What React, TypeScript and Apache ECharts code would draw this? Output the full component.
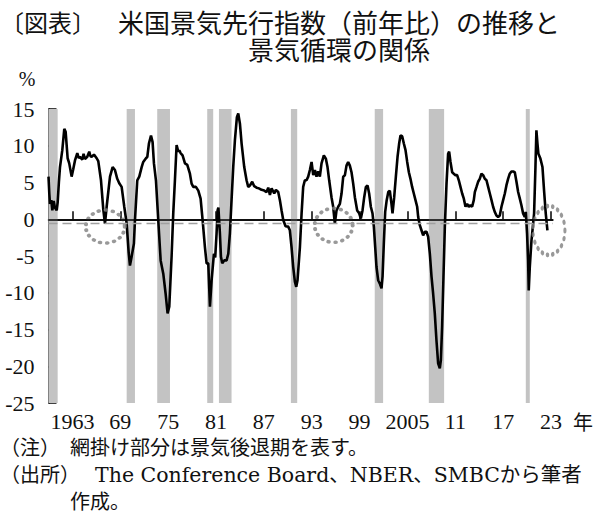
import React, { useEffect, useRef } from "react";
import * as echarts from "echarts";

const leiYears = [
  1960.0, 1960.1, 1960.19, 1960.35, 1960.48, 1960.65, 1960.8, 1961.03, 1961.15, 1961.3,
  1961.44, 1961.73, 1961.98, 1962.15, 1962.4, 1962.6, 1962.9, 1963.1, 1963.32, 1963.61,
  1963.8, 1963.95, 1964.23, 1964.4, 1964.57, 1964.86, 1965.11, 1965.25, 1965.41, 1965.7,
  1966.04, 1966.24, 1966.58, 1966.87, 1967.08, 1967.29, 1967.71, 1968.04, 1968.33, 1968.62,
  1968.87, 1969.17, 1969.5, 1969.8, 1970.05, 1970.21, 1970.42, 1970.71, 1970.84, 1971.13,
  1971.38, 1971.68, 1971.88, 1972.22, 1972.39, 1972.59, 1972.85, 1973.05, 1973.22, 1973.47,
  1973.76, 1974.06, 1974.39, 1974.68, 1974.93, 1975.14, 1975.43, 1975.64, 1975.85, 1976.06,
  1976.27, 1976.4, 1976.56, 1976.81, 1977.11, 1977.4, 1977.73, 1977.94, 1978.15, 1978.48,
  1978.78, 1979.07, 1979.32, 1979.61, 1979.82, 1980.03, 1980.24, 1980.45, 1980.74, 1980.9,
  1981.07, 1981.2, 1981.3, 1981.49, 1981.62, 1981.78, 1982.03, 1982.33, 1982.54, 1982.74,
  1982.95, 1983.16, 1983.37, 1983.62, 1983.79, 1984.0, 1984.21, 1984.54, 1984.83, 1985.04,
  1985.25, 1985.54, 1985.79, 1986.09, 1986.38, 1986.71, 1987.05, 1987.34, 1987.55, 1987.76,
  1987.97, 1988.3, 1988.51, 1988.8, 1989.01, 1989.22, 1989.43, 1989.72, 1990.05, 1990.26,
  1990.47, 1990.68, 1990.89, 1991.06, 1991.22, 1991.52, 1991.73, 1991.93, 1992.14, 1992.35,
  1992.56, 1992.77, 1992.98, 1993.19, 1993.4, 1993.6, 1993.81, 1994.02, 1994.23, 1994.52,
  1994.77, 1994.98, 1995.19, 1995.48, 1995.69, 1995.9, 1996.11, 1996.32, 1996.53, 1996.74,
  1996.95, 1997.16, 1997.36, 1997.57, 1997.78, 1997.99, 1998.2, 1998.41, 1998.7, 1998.95,
  1999.16, 1999.37, 1999.58, 1999.79, 2000.0, 2000.2, 2000.41, 2000.62, 2000.79, 2000.96,
  2001.12, 2001.33, 2001.54, 2001.75, 2001.88, 2002.04, 2002.21, 2002.4, 2002.6, 2002.79,
  2003.0, 2003.13, 2003.34, 2003.55, 2003.76, 2003.96, 2004.13, 2004.34, 2004.55, 2004.76,
  2004.97, 2005.18, 2005.38, 2005.59, 2005.8, 2006.01, 2006.22, 2006.35, 2006.55, 2006.76,
  2006.97, 2007.18, 2007.39, 2007.6, 2007.81, 2008.02, 2008.22, 2008.43, 2008.64, 2008.85,
  2009.06, 2009.19, 2009.35, 2009.52, 2009.69, 2009.9, 2010.1, 2010.23, 2010.4, 2010.61,
  2010.81, 2011.02, 2011.23, 2011.44, 2011.65, 2011.86, 2012.07, 2012.28, 2012.48, 2012.69,
  2012.9, 2013.11, 2013.32, 2013.45, 2013.66, 2013.86, 2014.07, 2014.28, 2014.49, 2014.7,
  2014.91, 2015.12, 2015.33, 2015.54, 2015.74, 2015.95, 2016.16, 2016.37, 2016.58, 2016.79,
  2017.0, 2017.21, 2017.41, 2017.62, 2017.83, 2018.04, 2018.25, 2018.46, 2018.67, 2018.88,
  2019.09, 2019.29, 2019.5, 2019.71, 2019.84, 2020.0, 2020.13, 2020.21, 2020.34, 2020.55,
  2020.76, 2020.88, 2021.05, 2021.17, 2021.3, 2021.42, 2021.67, 2021.93, 2022.13, 2022.34,
  2022.55,
];

const leiYoY = [
  5.8, 3.5, 2.1, 2.6, 1.2, 2.5, 1.6, 1.2, 2.3, 5.0,
  7.1, 9.4, 12.3, 11.9, 8.3, 7.6, 5.8, 6.8, 8.0, 9.0,
  8.3, 8.5, 8.1, 8.9, 8.2, 8.5, 9.2, 8.6, 8.5, 8.8,
  8.3, 7.9, 5.3, 1.3, -0.6, 1.7, 5.8, 7.1, 6.7, 5.5,
  4.9, 4.4, 1.7, -0.6, -4.5, -6.3, -5.1, -3.3, -0.1, 5.3,
  5.8, 7.1, 7.8, 8.3, 8.5, 10.3, 11.4, 10.5, 7.6, 5.3,
  -0.1, -5.6, -7.4, -10.1, -12.8, -11.9, -5.1, 0.8, 5.3, 10.1,
  9.2, 9.4, 9.0, 8.7, 7.6, 7.4, 6.2, 4.85, 4.4, 4.4,
  3.9, 2.8, -0.1, -3.8, -6.0, -6.0, -11.9, -8.3, -4.7, -5.2,
  -1.95, 1.2, 1.6, -1.95, -5.1, -6.0, -5.6, -5.6, -4.7, -1.95,
  2.6, 7.1, 10.75, 13.9, 14.4, 13.0, 10.3, 7.1, 5.3, 4.4,
  4.6, 5.1, 4.5, 4.3, 4.2, 4.0, 3.9, 3.7, 4.3, 3.3,
  4.2, 3.5, 4.0, 3.7, 2.6, 1.2, -0.1, -0.95, -1.0, -1.5,
  -3.8, -6.5, -8.5, -9.2, -8.3, -3.8, 0.8, 4.4, 5.3, 5.3,
  5.8, 6.7, 7.8, 6.0, 6.7, 5.8, 6.5, 5.8, 7.6, 8.7,
  8.25, 7.1, 5.3, 3.0, 1.7, -0.6, 1.2, 1.7, 2.1, 3.5,
  5.8, 6.0, 7.3, 7.8, 7.3, 6.4, 4.85, 3.0, 1.2, 0.8,
  0.1, 1.2, 3.0, 4.4, 4.6, 3.5, 1.7, 0.8, -1.0, -3.8,
  -6.5, -8.3, -8.75, -9.4, -7.8, -3.3, 1.0, 2.6, 3.7, 3.9,
  2.1, 0.8, 3.0, 5.8, 8.5, 10.3, 11.4, 11.3, 10.3, 9.4,
  7.8, 6.4, 5.5, 4.4, 3.5, 2.6, 1.7, 0.3, -0.8, -1.5,
  -2.2, -1.7, -1.7, -2.4, -4.7, -7.8, -10.1, -12.8, -16.5, -19.6,
  -20.3, -19.2, -14.6, -7.8, -1.0, 4.85, 8.9, 9.2, 7.8, 6.4,
  6.2, 6.0, 6.0, 5.3, 4.4, 3.5, 2.8, 1.7, 2.1, 1.7,
  1.9, 1.7, 2.6, 3.7, 4.4, 5.1, 5.5, 6.2, 6.0, 5.5,
  5.3, 4.4, 3.5, 2.6, 1.7, 1.0, 0.5, 0.3, 0.5, 1.7,
  2.6, 3.5, 4.6, 5.5, 6.2, 6.5, 6.5, 6.4, 5.1, 3.7,
  2.8, 1.9, 0.8, 0.3, 1.0, -1.95, -5.6, -9.7, -6.5, -2.9,
  -0.6, 0.8, 7.1, 12.1, 10.3, 8.9, 8.25, 7.1, 3.9, 0.8,
  -1.5,
];

const recessionStart = [1960.0, 1969.8, 1973.63, 1979.9, 1981.37, 1990.39, 2000.9, 2007.68, 2019.84];
const recessionEnd = [1961.15, 1970.84, 1975.23, 1980.65, 1982.95, 1991.18, 2001.95, 2009.6, 2020.34];

const circleYears = [1967.12, 1995.75, 2022.74];
const circleValues = [-1.0, -0.83, -1.53];

const referenceLevel = -0.6;

const xTickYears = [1963, 1969, 1975, 1981, 1987, 1993, 1999, 2005, 2011, 2017, 2023];
const xTickLabels = ["1963", "69", "75", "81", "87", "93", "99", "2005", "11", "17", "23"];

const titleText = "米国景気先行指数（前年比）の推移と\n景気循環の関係";

export default function App() {
  const ref = useRef<HTMLDivElement>(null);

  useEffect(() => {
    if (!ref.current) return;
    const chart = echarts.init(ref.current, null, { renderer: "svg" });
    const serif = "'Liberation Serif', 'Noto Sans CJK JP', serif";
    const wideSerif = "'DejaVu Serif', 'Noto Sans CJK JP', serif";
    const cjk = "'Noto Sans CJK JP', sans-serif";
    const circleSizes = [
      [39, 33],
      [38, 34],
      [32, 49],
    ];

    const text = (
      t: string,
      x: number,
      y: number,
      size: number,
      family: string,
      align = "left",
      vAlign = "middle",
      lineHeight?: number
    ) => ({
      type: "text",
      x,
      y,
      silent: true,
      style: {
        text: t,
        fill: "#111",
        fontSize: size,
        fontFamily: family,
        align,
        verticalAlign: vAlign,
        lineHeight,
      },
    });

    chart.setOption({
      animation: false,
      backgroundColor: "#fff",
      grid: { left: 48.5, right: 47, top: 109, bottom: 111, containLabel: false },
      xAxis: {
        type: "value",
        min: 1960,
        max: 2023.25,
        axisLine: { show: true, lineStyle: { color: "#000", width: 1.5 } },
        axisTick: {
          show: true,
          inside: true,
          length: 8,
          customValues: xTickYears,
          lineStyle: { color: "#000", width: 1.5 },
        },
        axisLabel: {
          customValues: xTickYears,
          formatter: (v: number) => {
            const i = xTickYears.indexOf(Math.round(v));
            return i >= 0 ? xTickLabels[i] : "";
          },
          fontFamily: serif,
          fontSize: 22,
          color: "#111",
          margin: 7,
        },
        splitLine: { show: false },
      },
      yAxis: {
        type: "value",
        min: -25,
        max: 15,
        interval: 5,
        axisLine: { show: true, lineStyle: { color: "#000", width: 1.5 } },
        axisTick: { show: true, inside: true, length: 8, lineStyle: { color: "#000", width: 1.5 } },
        axisLabel: { fontFamily: serif, fontSize: 22, color: "#111", margin: 14 },
        splitLine: { show: false },
      },
      series: [
        {
          type: "line",
          z: 1,
          silent: true,
          symbol: "none",
          data: leiYears.map((y, i) => [y, leiYoY[i]]),
          lineStyle: { opacity: 0, width: 0 },
          markArea: {
            silent: true,
            itemStyle: { color: "#c3c3c3" },
            data: recessionStart.map((s, i) => [{ xAxis: s }, { xAxis: recessionEnd[i] }]),
          },
          markLine: {
            silent: true,
            symbol: ["none", "none"],
            label: { show: false },
            data: [
              { yAxis: 0, lineStyle: { color: "#000", type: "solid", width: 1.5 } },
              { yAxis: referenceLevel, lineStyle: { color: "#a0a0a0", type: [9, 5], width: 1.3 } },
            ],
          },
        },
        {
          type: "line",
          z: 3,
          silent: true,
          symbol: "none",
          data: leiYears.map((y, i) => [y, leiYoY[i]]),
          lineStyle: { color: "#000", width: 2.6 },
        },
        {
          type: "scatter",
          z: 4,
          silent: true,
          symbol: "circle",
          data: circleYears.map((y, i) => ({ value: [y, circleValues[i]], symbolSize: circleSizes[i] })),
          itemStyle: {
            color: "rgba(0,0,0,0)",
            borderColor: "#808080",
            borderWidth: 3.8,
            borderType: [0.5, 6],
            borderCap: "round",
          },
        },
      ],
      graphic: [
        text("〔図表〕", 0, 21, 24, cjk),
        text(titleText, 339, 8, 26, cjk, "center", "top", 27),
        text("%", 27, 79, 20, serif, "center"),
        text("年", 583, 421, 20, cjk, "center"),
        text("（注）", 0, 448, 20, serif),
        text("網掛け部分は景気後退期を表す。", 70, 448, 20, serif),
        text("（出所）", 0, 475, 20, serif),
        text("The Conference Board、NBER、SMBCから筆者", 95, 475, 20.5, wideSerif),
        text("作成。", 70, 502, 20, serif),
      ],
    });

    return () => chart.dispose();
  }, []);

  return (
    <div
      ref={ref}
      style={{ position: "absolute", left: 0, top: 0, width: 600, height: 514 }}
    />
  );
}
